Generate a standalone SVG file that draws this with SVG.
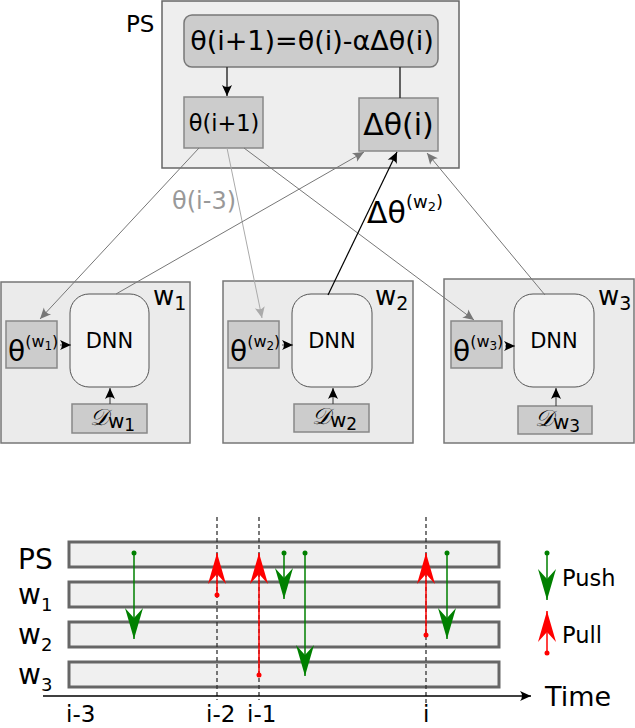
<svg xmlns="http://www.w3.org/2000/svg" width="635" height="728" viewBox="0 0 635 728">
<style>
text{font-family:"DejaVu Sans","Liberation Sans",sans-serif;fill:#000}
.outer{fill:#eeeeee;stroke:#666;stroke-width:1.5}
.worker{fill:#ebebeb;stroke:#777;stroke-width:1.5}
.gbox{fill:#cccccc;stroke:#888;stroke-width:1.5}
.dnn{fill:#f2f2f2;stroke:#555;stroke-width:1}
.bar{fill:#f0f0f0;stroke:#666;stroke-width:3}
.dash{stroke:#333;stroke-width:1.3;stroke-dasharray:4,3;fill:none}
.push{stroke:#008000;stroke-width:1.5;fill:none;marker-end:url(#gh);marker-start:url(#gd)}
.pull{stroke:#ff0000;stroke-width:1.5;fill:none;marker-end:url(#rh);marker-start:url(#rd)}
.cal{font-family:"Liberation Serif","DejaVu Serif",serif;font-style:italic}
</style>
<defs>
<marker id="ag" viewBox="-12 -6 14 12" refX="0" refY="0" markerWidth="14" markerHeight="12" markerUnits="userSpaceOnUse" orient="auto"><path d="M0,0 L-11,-5 Q-7,0 -11,5 Z" fill="#777"/></marker>
<marker id="al" viewBox="-12 -6 14 12" refX="0" refY="0" markerWidth="14" markerHeight="12" markerUnits="userSpaceOnUse" orient="auto"><path d="M0,0 L-11,-5 Q-7,0 -11,5 Z" fill="#aaa"/></marker>
<marker id="ak" viewBox="-12 -6 14 12" refX="0" refY="0" markerWidth="14" markerHeight="12" markerUnits="userSpaceOnUse" orient="auto"><path d="M0,0 L-11,-5 Q-7,0 -11,5 Z" fill="#000"/></marker>
<marker id="gh" viewBox="-32 -10 34 20" refX="0" refY="0" markerWidth="34" markerHeight="20" markerUnits="userSpaceOnUse" orient="auto"><path d="M0,0 L-31,-9 L-21,0 L-31,9 Z" fill="#008000"/></marker>
<marker id="rh" viewBox="-32 -10 34 20" refX="0" refY="0" markerWidth="34" markerHeight="20" markerUnits="userSpaceOnUse" orient="auto"><path d="M0,0 L-31,-9 L-21,0 L-31,9 Z" fill="#ff0000"/></marker>
<marker id="gd" viewBox="-3 -3 6 6" refX="0" refY="0" markerWidth="6" markerHeight="6" markerUnits="userSpaceOnUse"><circle r="2.5" fill="#008000"/></marker>
<marker id="rd" viewBox="-3 -3 6 6" refX="0" refY="0" markerWidth="6" markerHeight="6" markerUnits="userSpaceOnUse"><circle r="2.5" fill="#ff0000"/></marker>
</defs>

<g id="ps">
<rect class="outer" x="162" y="1" width="297" height="167"/>
<text x="126" y="32" font-size="23">PS</text>
</g>
<g id="formula">
<rect class="gbox" x="184" y="15" width="254" height="52" rx="8" style="stroke:#777"/>
<text x="312" y="50" font-size="27" text-anchor="middle">θ(i+1)=θ(i)-αΔθ(i)</text>
</g>
<g id="theta-next">
<rect class="gbox" x="184" y="97" width="79" height="51"/>
<text x="224" y="131" font-size="22.5" text-anchor="middle">θ(i+1)</text>
</g>
<g id="delta-theta">
<rect class="gbox" x="359" y="98" width="79" height="53"/>
<text x="398.5" y="135" font-size="30" text-anchor="middle">Δθ(i)</text>
</g>

<g id="w1">
<rect class="worker" x="1" y="282" width="189" height="161"/>
<text x="153" y="305" font-size="26">w<tspan font-size="19" dy="5">1</tspan></text>
<rect class="dnn" x="70" y="294" width="79" height="93" rx="19"/>
<text x="109.5" y="348" font-size="21" text-anchor="middle">DNN</text>
<rect class="gbox" x="6" y="321" width="51" height="47"/>
<text x="8" y="361" font-size="28">θ<tspan font-size="16" dy="-14">(w<tspan font-size="12" dy="3">1</tspan><tspan dy="-3">)</tspan></tspan></text>
<rect class="gbox" x="72" y="404" width="75" height="29"/>
<text x="90" y="425" font-size="23" class="cal">𝒟<tspan font-family="DejaVu Sans" font-style="normal" font-size="20" dy="3">w</tspan><tspan font-family="DejaVu Sans" font-style="normal" font-size="17" dy="3">1</tspan></text>
</g>
<g id="w2">
<rect class="worker" x="223" y="281" width="190" height="162"/>
<text x="375" y="305" font-size="26">w<tspan font-size="19" dy="5">2</tspan></text>
<rect class="dnn" x="292" y="294" width="80" height="93" rx="19"/>
<text x="332" y="348" font-size="21" text-anchor="middle">DNN</text>
<rect class="gbox" x="228" y="321" width="51" height="47"/>
<text x="230" y="361" font-size="28">θ<tspan font-size="16" dy="-14">(w<tspan font-size="12" dy="3">2</tspan><tspan dy="-3">)</tspan></tspan></text>
<rect class="gbox" x="294" y="404" width="75" height="28"/>
<text x="312" y="424" font-size="23" class="cal">𝒟<tspan font-family="DejaVu Sans" font-style="normal" font-size="20" dy="3">w</tspan><tspan font-family="DejaVu Sans" font-style="normal" font-size="17" dy="3">2</tspan></text>
</g>
<g id="w3">
<rect class="worker" x="444" y="279" width="190" height="164"/>
<text x="598" y="305" font-size="26">w<tspan font-size="19" dy="5">3</tspan></text>
<rect class="dnn" x="514" y="294" width="80" height="93" rx="19"/>
<text x="554" y="348" font-size="21" text-anchor="middle">DNN</text>
<rect class="gbox" x="451" y="321" width="51" height="47"/>
<text x="453" y="361" font-size="28">θ<tspan font-size="16" dy="-14">(w<tspan font-size="12" dy="3">3</tspan><tspan dy="-3">)</tspan></tspan></text>
<rect class="gbox" x="518" y="406" width="74" height="28"/>
<text x="535" y="426" font-size="23" class="cal">𝒟<tspan font-family="DejaVu Sans" font-style="normal" font-size="20" dy="3">w</tspan><tspan font-family="DejaVu Sans" font-style="normal" font-size="17" dy="3">3</tspan></text>
</g>

<g id="connectors" fill="none">
<path d="M227,67 V96" stroke="#333" stroke-width="1.5" marker-end="url(#ak)"/>
<path d="M400,67 V98" stroke="#333" stroke-width="1.5"/>
<path d="M199,148 L40,319" stroke="#777" stroke-width="1" marker-end="url(#ag)"/>
<path d="M227,148 L262,318" stroke="#aaa" stroke-width="1" marker-end="url(#al)"/>
<path d="M244,148 L474,320" stroke="#777" stroke-width="1" marker-end="url(#ag)"/>
<path d="M116,294 L364,152" stroke="#777" stroke-width="1" marker-end="url(#ag)"/>
<path d="M328,295 L397,152" stroke="#000" stroke-width="1.2" marker-end="url(#ak)"/>
<path d="M545,295 L427,153" stroke="#777" stroke-width="1" marker-end="url(#ag)"/>
<path d="M60,345 H71" stroke="#555" stroke-width="1" marker-end="url(#ak)"/>
<path d="M282,345 H293" stroke="#555" stroke-width="1" marker-end="url(#ak)"/>
<path d="M505,346 H515" stroke="#555" stroke-width="1" marker-end="url(#ak)"/>
<path d="M110,404 V388" stroke="#333" stroke-width="1" marker-end="url(#ak)"/>
<path d="M333,404 V388" stroke="#333" stroke-width="1" marker-end="url(#ak)"/>
<path d="M556,406 V388" stroke="#333" stroke-width="1" marker-end="url(#ak)"/>
</g>
<text x="172" y="209" font-size="24" style="fill:#999">θ(i-3)</text>
<text x="367" y="223" font-size="30">Δθ<tspan font-size="18" dy="-15">(w<tspan font-size="13" dy="3">2</tspan><tspan dy="-3">)</tspan></tspan></text>

<g id="timeline">
<rect class="bar" x="69" y="542" width="430" height="25"/>
<rect class="bar" x="69" y="582" width="430" height="25"/>
<rect class="bar" x="69" y="622" width="430" height="25"/>
<rect class="bar" x="69" y="662" width="430" height="25"/>
<text x="18" y="569" font-size="28">PS</text>
<text x="18" y="604" font-size="28">w<tspan font-size="18" dy="7">1</tspan></text>
<text x="18" y="644" font-size="28">w<tspan font-size="18" dy="7">2</tspan></text>
<text x="18" y="684" font-size="28">w<tspan font-size="18" dy="7">3</tspan></text>
<path class="dash" d="M217,517 V700"/>
<path class="dash" d="M259,517 V700"/>
<path class="dash" d="M426,517 V705"/>
<path d="M43,696 H531" stroke="#000" stroke-width="1.5" fill="none" marker-end="url(#ak)"/>
<text x="545" y="706" font-size="27">Time</text>
<text x="66" y="722" font-size="23">i-3</text>
<text x="206" y="722" font-size="23">i-2</text>
<text x="247" y="722" font-size="23">i-1</text>
<text x="423" y="722" font-size="23">i</text>
<path class="push" d="M134,553 V639"/>
<path class="pull" d="M217,595 V553"/>
<path class="pull" d="M259,675 V553"/>
<path class="push" d="M284,553 V599"/>
<path class="push" d="M305,553 V676"/>
<path class="pull" d="M426,635 V553"/>
<path class="push" d="M447,553 V639"/>
<path class="push" d="M547,553 V600"/>
<text x="562" y="586" font-size="22.5">Push</text>
<path class="pull" d="M547,653 V611"/>
<text x="562" y="643" font-size="22.5">Pull</text>
</g>
</svg>
